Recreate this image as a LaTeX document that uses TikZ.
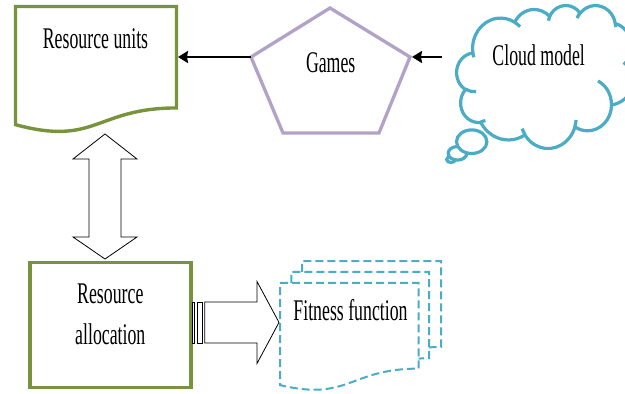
\documentclass[tikz,border=0pt]{standalone}
\usepackage{graphicx}
\usepackage{fontspec}
\setmainfont{Liberation Serif}
\usetikzlibrary{arrows.meta}
\definecolor{olivegreen}{HTML}{77933C}
\definecolor{lavender}{HTML}{B3A2C7}
\definecolor{cloudblue}{HTML}{4BACC6}
\newcommand{\sqtext}[1]{\scalebox{0.593}[1]{#1}}
\begin{document}
\begin{tikzpicture}[x=1pt,y=-1pt,
  greenshape/.style={draw=olivegreen, line width=3.4pt, fill=white},
  pentshape/.style={draw=lavender, line width=3.3pt, fill=white, line join=miter},
  cloudshape/.style={draw=cloudblue, line width=3.2pt, fill=white},
  cloudline/.style={draw=cloudblue, line width=3.2pt},
  dashdoc/.style={draw=cloudblue, line width=2pt, dash pattern=on 8pt off 4pt},
  blockarrow/.style={draw=black, line width=0.8pt, fill=white, line join=miter},
  lbl/.style={inner sep=0pt, font=\fontsize{30}{41}\selectfont, anchor=base},
  conn/.style={line width=2.2pt, -{Stealth[length=10pt,width=12pt,inset=1pt]}}]
\useasboundingbox (0,0) rectangle (625,394);

% Resource units (document shape)
\draw[greenshape] (15.5,6.5) -- (176.5,6.5) -- (176.5,107.95)
  .. controls (96,107.95) and (96,146.6) .. (15.5,124.65) -- cycle;
\coordinate (ruR) at (178,57);

% Games (pentagon)
\coordinate (gTop) at (330,8);
\coordinate (gL) at (251,57);
\coordinate (gR) at (410,57);
\coordinate (gBL) at (283,133);
\coordinate (gBR) at (379,133);
\coordinate (gTip) at (412,57);
\draw[pentshape] (gTop) -- (gR) -- (gBR) -- (gBL) -- (gL) -- cycle;

% Cloud callout bubbles
\draw[cloudshape] (451,159.5) ellipse [x radius=4.3, y radius=3];
\draw[cloudshape] (457.5,153.3) ellipse [x radius=9.3, y radius=6.8];
\draw[cloudshape] (471.7,141.7) ellipse [x radius=15.2, y radius=11.8];

% Cloud
\begin{scope}[shift={(456.7,5.04)}, x=0.414pt, y=-0.3309pt]
\draw[cloudshape] (39.00,143.70)
  arc[start angle=-187.746, end angle=-59.64, x radius=67.53, y radius=91.90]
  arc[start angle=-152.03, end angle=-45.45, x radius=53.33, y radius=72.67]
  arc[start angle=-153.49, end angle=-37.34, x radius=43.65, y radius=59.45]
  arc[start angle=-139.70, end angle=-10.21, x radius=48.57, y radius=65.95]
  arc[start angle=-74.77, end angle=23.21, x radius=53.33, y radius=72.73]
  arc[start angle=-37.52, end angle=81.86, x radius=67.75, y radius=92.20]
  arc[start angle=0.46, end angle=121.97, x radius=57.85, y radius=78.67]
  arc[start angle=16.84, end angle=146.23, x radius=67.52, y radius=92.15]
  arc[start angle=58.98, end angle=150.18, x radius=77.20, y radius=105.43]
  arc[start angle=-276.69, end angle=-136.89, x radius=43.60, y radius=59.18]
  arc[start angle=-239.66, end angle=-95.89, x radius=43.45, y radius=59.45]
  -- cycle;
\draw[cloudline]
  (46.93,261.77) arc[start angle=85.55, end angle=120.35, x radius=43.45, y radius=59.45]
  (69.28,348.99) arc[start angle=68.23, end angle=83.31, x radius=43.60, y radius=59.18]
  (164.78,390.90) arc[start angle=146.23, end angle=158.47, x radius=67.52, y radius=92.15]
  (288.27,347.51) arc[start angle=4.74, end angle=16.84, x radius=67.52, y radius=92.15]
  (341.29,229.54) arc[start angle=-64.03, end angle=0.46, x radius=57.85, y radius=78.67]
  (417.98,153.54) arc[start angle=23.21, end angle=49.64, x radius=53.33, y radius=72.73]
  (383.24,54.26) arc[start angle=-10.21, end angle=0.82, x radius=48.57, y radius=65.95]
  (290.78,39.52) arc[start angle=-156.30, end angle=-139.70, x radius=48.57, y radius=65.95]
  (221.41,47.20) arc[start angle=-167.73, end angle=-153.49, x radius=43.65, y radius=59.45]
  (140.00,51.92) arc[start angle=-59.64, end angle=-45.74, x radius=67.53, y radius=91.90]
  (41.27,157.89) arc[start angle=163.20, end angle=172.25, x radius=67.53, y radius=91.90];
\end{scope}
\coordinate (cS) at (442,57);

% Connectors
\draw[conn] (gL) -- (ruR);
\draw[conn] (cS) -- (gTip);

% Up-down block arrow
\draw[blockarrow] (105,134) -- (137,159) -- (121,159) -- (121,237) -- (137,237)
  -- (105,259) -- (73,237) -- (89,237) -- (89,159) -- (73,159) -- cycle;

% Resource allocation box
\draw[greenshape] (30,262.3) rectangle (191,387.4);

% Striped right arrow
\draw[blockarrow] (192,302) rectangle (194.5,343);
\draw[blockarrow] (197,302) rectangle (202,343);
\draw[blockarrow] (204.7,302) -- (257,302) -- (257,281.5) -- (279,322.4)
  -- (257,363.5) -- (257,343) -- (204.7,343) -- cycle;

% Fitness function (multi-document, dashed)
\draw[dashdoc, fill=white] (280,282.95) -- (418.6,282.95) -- (418.6,368.63)
  .. controls (349.3,368.63) and (349.3,401.6) .. (280,385.11) -- cycle;
\draw[dashdoc] (291.42,282.95) -- (291.42,271.84) -- (429.07,271.84) -- (429.07,358.06)
  .. controls (423.84,358.06) and (418.6,358.66) .. (418.6,358.66);
\draw[dashdoc] (302.15,271.84) -- (302.15,261) -- (441,261) -- (441,346.95)
  .. controls (435.04,346.95) and (429.07,347.4) .. (429.07,347.4);

% Labels
\node[lbl] (tRU) at (95.5,48) {\sqtext{Resource units}};
\node[lbl] (tG) at (330.7,72.5) {\sqtext{Games}};
\node[lbl] (tC) at (538.7,65) {\sqtext{Cloud model}};
\node[lbl] (tRA) at (110.3,303) {\sqtext{\begin{tabular}[t]{@{}c@{}}Resource\\allocation\end{tabular}}};
\node[lbl] (tF) at (350.5,320) {\sqtext{Fitness function}};
\end{tikzpicture}
\end{document}
